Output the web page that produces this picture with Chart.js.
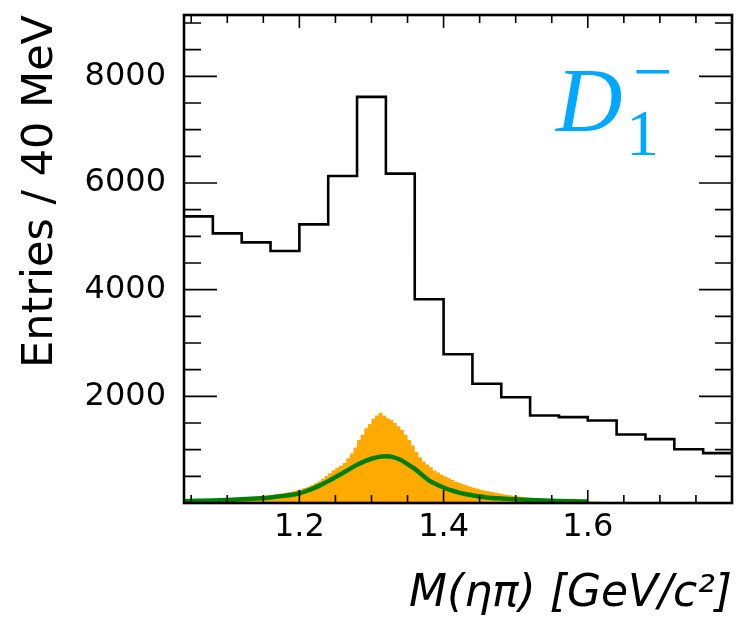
<!DOCTYPE html>
<html>
<head>
<meta charset="utf-8">
<script src="https://cdn.jsdelivr.net/npm/chart.js@4.4.0/dist/chart.umd.min.js"></script>
<style>
  html, body { margin: 0; padding: 0; background: #fff; }
  #plot { display: block; }
</style>
</head>
<body>
<canvas id="plot" width="736" height="623"></canvas>
<script>
// ----- data -----
// M(eta pi) spectrum, 40 MeV bins starting at 1.04 GeV
const dataLow = 1.04;
const dataWidth = 0.04;
const dataCounts = [5375, 5056, 4887, 4724, 5225, 6131, 7614, 6176, 3820, 2790,
                    2236, 1982, 1642, 1610, 1548, 1285, 1197, 1009, 935];

// signal template, 5 MeV bins (orange fill)
const sigLow = 1.04;
const sigWidth = 0.005;
const sigCounts = [
    47, 49, 51, 53, 55, 57, 60, 62, 65, 68,
    71, 74, 78, 82, 86, 90, 95, 100, 106, 112,
    118, 125, 132, 140, 149, 158, 168, 180, 192, 205,
    220, 238, 258, 280, 305, 335, 370, 410, 455, 505,
    560, 615, 660, 700, 750, 840, 930, 1040, 1180, 1280,
    1400, 1480, 1580, 1640, 1690, 1640, 1590, 1560, 1500, 1440,
    1370, 1280, 1180, 1080, 960, 860, 780, 720, 670, 610,
    570, 530, 495, 465, 430, 400, 375, 350, 330, 305,
    285, 265, 248, 232, 218, 204, 190, 178, 166, 155,
    145, 135, 125, 116, 108, 100, 93, 87, 81, 76,
    71, 66, 62, 58, 54, 50, 46, 43, 40, 37,
    34, 31, 28, 26, 24, 22, 21, 20, 19, 18,
    17, 16, 15, 14, 13, 12, 12, 11, 11, 10,
    10, 9, 9, 8, 8, 8, 7, 7, 7, 6,
    6, 6, 6, 5, 5, 5, 5, 5, 5, 4, 4, 4
];

// fit component (green curve)
const fitMass = [1.04, 1.06, 1.08, 1.10, 1.12, 1.14, 1.16, 1.18,
                 1.19, 1.20, 1.21, 1.22, 1.23, 1.24, 1.25, 1.26, 1.27, 1.28,
                 1.29, 1.30, 1.31, 1.32, 1.33, 1.34, 1.35, 1.36, 1.37, 1.38,
                 1.39, 1.40, 1.41, 1.42, 1.43, 1.44, 1.45, 1.46,
                 1.48, 1.50, 1.52, 1.54, 1.56, 1.58, 1.60];
const fitValues = [35, 40, 48, 58, 70, 85, 105, 135,
                   155, 180, 225, 280, 340, 410, 485, 560, 640, 715,
                   780, 830, 865, 875, 860, 810, 730, 640, 530, 420,
                   350, 290, 240, 200, 170, 145, 120, 105,
                   85, 68, 55, 45, 38, 32, 28];

const xTickLabels = [1.2, 1.4, 1.6];
const yTickLabels = [2000, 4000, 6000, 8000];

// histogram -> step points (one per lower edge, plus the last upper edge)
function stepPoints(low, width, counts) {
    const pts = counts.map((c, i) => ({ x: low + i * width, y: c }));
    pts.push({ x: low + counts.length * width, y: counts[counts.length - 1] });
    return pts;
}

// ----- frame with ROOT style inner ticks -----
const frameTicks = {
    id: 'frameTicks',
    afterDatasetsDraw(chart) {
        const ctx = chart.ctx;
        const a = chart.chartArea;
        const xs = chart.scales.x, ys = chart.scales.y;
        ctx.save();
        ctx.strokeStyle = '#000';
        ctx.lineWidth = 1.6;
        ctx.beginPath();
        for (let k = 21; k <= 35; k++) {
            const px = xs.getPixelForValue(k * 0.05);
            const len = (k % 4 === 0) ? 13 : 8;
            ctx.moveTo(px, a.bottom); ctx.lineTo(px, a.bottom - len);
            ctx.moveTo(px, a.top); ctx.lineTo(px, a.top + len);
        }
        for (let k = 1; k <= 18; k++) {
            const py = ys.getPixelForValue(k * 500);
            const len = (k % 4 === 0) ? 33 : 17;
            ctx.moveTo(a.left, py); ctx.lineTo(a.left + len, py);
            ctx.moveTo(a.right, py); ctx.lineTo(a.right - len, py);
        }
        ctx.stroke();
        ctx.lineWidth = 2.6;
        ctx.strokeRect(a.left, a.top, a.right - a.left, a.bottom - a.top);
        ctx.restore();
    }
};

// ----- D1- label -----
const particleLabel = {
    id: 'particleLabel',
    afterDraw(chart) {
        const ctx = chart.ctx;
        ctx.save();
        ctx.fillStyle = 'rgb(0, 168, 255)';
        ctx.textBaseline = 'alphabetic';
        ctx.font = 'italic 92px "Liberation Serif"';
        ctx.fillText('D', 556, 131);
        ctx.font = '66px "Liberation Serif"';
        ctx.fillText('1', 626, 155);
        ctx.font = '70px "Liberation Serif"';
        ctx.fillText('\u2212', 633, 95);
        ctx.restore();
    }
};

const tickFont = { family: "'DejaVu Sans'", size: 32 };

const config = {
    type: 'line',
    data: {
        datasets: [
            {
                label: 'Data',
                data: stepPoints(dataLow, dataWidth, dataCounts),
                stepped: 'before',
                borderColor: '#000',
                borderWidth: 2.6,
                pointRadius: 0,
                fill: false,
                order: 0
            },
            {
                label: 'Fit',
                data: fitMass.map((m, i) => ({ x: m, y: fitValues[i] })),
                borderColor: 'rgb(0, 128, 0)',
                borderWidth: 4.5,
                pointRadius: 0,
                cubicInterpolationMode: 'monotone',
                fill: false,
                order: 1
            },
            {
                label: 'Signal',
                data: stepPoints(sigLow, sigWidth, sigCounts),
                stepped: 'before',
                borderColor: 'rgb(255, 170, 0)',
                borderWidth: 0,
                backgroundColor: 'rgb(255, 170, 0)',
                pointRadius: 0,
                fill: 'origin',
                order: 2
            }
        ]
    },
    options: {
        responsive: false,
        animation: false,
        devicePixelRatio: 1,
        layout: { padding: { top: 15, right: 4, left: 0, bottom: 0 } },
        plugins: {
            legend: { display: false },
            tooltip: { enabled: false }
        },
        scales: {
            x: {
                type: 'linear',
                min: 1.04,
                max: 1.80,
                grid: { display: false, drawTicks: false },
                border: { display: false },
                afterBuildTicks: (s) => { s.ticks = xTickLabels.map(v => ({ value: v })); },
                afterFit: (s) => {
                    s.height = 120;
                    s.paddingLeft = 0;
                    s.paddingRight = 0;
                },
                ticks: {
                    font: tickFont,
                    color: '#000',
                    padding: 5,
                    maxRotation: 0,
                    autoSkip: false,
                    callback: (v) => v.toFixed(1)
                },
                title: {
                    display: true,
                    text: 'M(ηπ) [GeV/c²]',
                    align: 'end',
                    color: '#000',
                    font: { family: "'DejaVu Sans'", size: 44, style: 'italic' },
                    padding: { top: 0, bottom: 2 }
                }
            },
            y: {
                min: 0,
                max: 9150,
                grid: { display: false, drawTicks: false },
                border: { display: false },
                afterBuildTicks: (s) => { s.ticks = yTickLabels.map(v => ({ value: v })); },
                afterFit: (s) => {
                    s.width = 184;
                    s.paddingTop = 0;
                    s.paddingBottom = 0;
                },
                ticks: {
                    font: tickFont,
                    color: '#000',
                    padding: 18,
                    autoSkip: false,
                    callback: (v) => String(v)
                },
                title: {
                    display: true,
                    text: 'Entries / 40 MeV',
                    align: 'end',
                    color: '#000',
                    font: { family: "'DejaVu Sans'", size: 43 },
                    padding: { top: 15, bottom: 0 }
                }
            }
        }
    },
    plugins: [frameTicks, particleLabel]
};

var plot = new Chart(document.getElementById('plot'), config);
</script>
</body>
</html>
